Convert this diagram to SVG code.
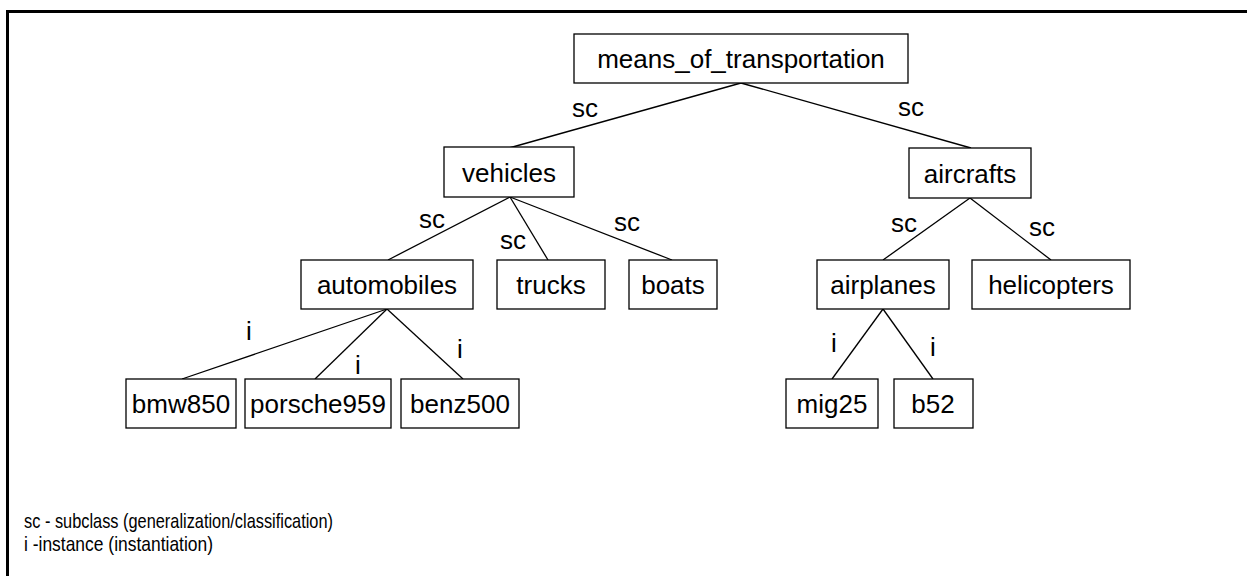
<svg xmlns="http://www.w3.org/2000/svg" width="1247" height="576" viewBox="0 0 1247 576">
<style>
.box{fill:#fff;stroke:#000;stroke-width:1.3}
.t{font-family:"Liberation Sans",Arial,sans-serif;font-size:26px;fill:#000;text-anchor:middle}
.lbl{font-family:"Liberation Sans",Arial,sans-serif;font-size:26px;fill:#000;text-anchor:middle}
.leg{font-family:"Liberation Sans",Arial,sans-serif;font-size:21px;fill:#000}
.c line{stroke:#000;stroke-width:1.3}
</style>
<rect width="1247" height="576" fill="#fff"/>
<path d="M7.5,576 V11.5 H1247" fill="none" stroke="#000" stroke-width="3"/>
<g class="c" id="connectors">
<line x1="741" y1="83" x2="509" y2="148"/>
<line x1="741" y1="83" x2="971" y2="148"/>
<line x1="510" y1="197" x2="388" y2="260"/>
<line x1="510" y1="197" x2="548" y2="260"/>
<line x1="510" y1="197" x2="672" y2="260"/>
<line x1="970" y1="198" x2="883" y2="260"/>
<line x1="970" y1="198" x2="1051" y2="260"/>
<line x1="387" y1="309" x2="182" y2="379"/>
<line x1="387" y1="309" x2="315" y2="379"/>
<line x1="387" y1="309" x2="463" y2="379"/>
<line x1="883" y1="309" x2="832" y2="379"/>
<line x1="883" y1="309" x2="933" y2="379"/>
</g>
<g id="edge-labels">
<text class="lbl" x="585" y="117">sc</text>
<text class="lbl" x="911" y="116">sc</text>
<text class="lbl" x="432" y="228">sc</text>
<text class="lbl" x="513" y="249">sc</text>
<text class="lbl" x="627" y="231">sc</text>
<text class="lbl" x="904" y="232">sc</text>
<text class="lbl" x="1042" y="236">sc</text>
<text class="lbl" x="249" y="340">i</text>
<text class="lbl" x="358" y="374">i</text>
<text class="lbl" x="460" y="358">i</text>
<text class="lbl" x="834" y="352">i</text>
<text class="lbl" x="933" y="356">i</text>
</g>
<g id="means_of_transportation"><rect class="box" x="574" y="34" width="334" height="49"/><text class="t" x="741" y="68">means_of_transportation</text></g>
<g id="vehicles"><rect class="box" x="444" y="147" width="130" height="50"/><text class="t" x="509" y="182">vehicles</text></g>
<g id="aircrafts"><rect class="box" x="909" y="148" width="122" height="50"/><text class="t" x="970" y="183">aircrafts</text></g>
<g id="automobiles"><rect class="box" x="301" y="260" width="172" height="49"/><text class="t" x="387" y="294">automobiles</text></g>
<g id="trucks"><rect class="box" x="497" y="260" width="108" height="49"/><text class="t" x="551" y="294">trucks</text></g>
<g id="boats"><rect class="box" x="629" y="260" width="88" height="49"/><text class="t" x="673" y="294">boats</text></g>
<g id="airplanes"><rect class="box" x="817" y="260" width="132" height="49"/><text class="t" x="883" y="294">airplanes</text></g>
<g id="helicopters"><rect class="box" x="972" y="260" width="158" height="49"/><text class="t" x="1051" y="294">helicopters</text></g>
<g id="bmw850"><rect class="box" x="126" y="379" width="110" height="49"/><text class="t" x="181" y="413">bmw850</text></g>
<g id="porsche959"><rect class="box" x="245" y="379" width="146" height="49"/><text class="t" x="318" y="413">porsche959</text></g>
<g id="benz500"><rect class="box" x="401" y="379" width="118" height="49"/><text class="t" x="460" y="413">benz500</text></g>
<g id="mig25"><rect class="box" x="786" y="379" width="92" height="49"/><text class="t" x="832" y="413">mig25</text></g>
<g id="b52"><rect class="box" x="894" y="379" width="79" height="49"/><text class="t" x="933" y="413">b52</text></g>
<g id="legend">
<text class="leg" x="24" y="528" textLength="309" lengthAdjust="spacingAndGlyphs">sc - subclass (generalization/classification)</text>
<text class="leg" x="24" y="551" textLength="189" lengthAdjust="spacingAndGlyphs">i -instance (instantiation)</text>
</g>
</svg>
